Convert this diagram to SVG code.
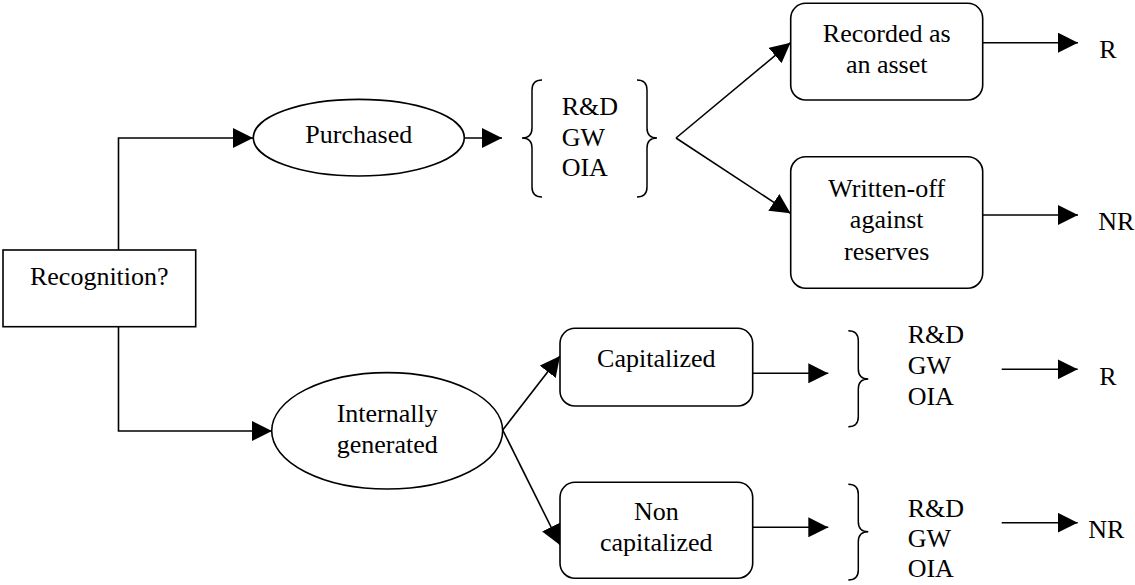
<svg xmlns="http://www.w3.org/2000/svg" width="1135" height="585" viewBox="0 0 1135 585">
<defs>
<style>
.t{font-family:"Liberation Serif","Times New Roman",serif;font-size:26px;fill:#000}
.m{text-anchor:middle}
.s{fill:#fff;stroke:#000;stroke-width:1.6}
.c{fill:none;stroke:#000;stroke-width:1.6}
.b{fill:none;stroke:#000;stroke-width:1.5}
</style>
<marker id="ah" markerUnits="userSpaceOnUse" markerWidth="20" markerHeight="20" refX="20" refY="10" orient="auto">
<path d="M0,0 L20,10 L0,20 z" fill="#000"/>
</marker>
</defs>
<rect width="1135" height="585" fill="#fff"/>
<g id="connectors">
<polyline class="c" points="118.5,250 118.5,138 253,138" marker-end="url(#ah)"/>
<polyline class="c" points="118.5,327 118.5,431 272,431" marker-end="url(#ah)"/>
<line class="c" x1="464" y1="138" x2="502" y2="138" marker-end="url(#ah)"/>
<line class="c" x1="676" y1="138" x2="790.5" y2="42.7" marker-end="url(#ah)"/>
<line class="c" x1="676" y1="138" x2="790.5" y2="213.3" marker-end="url(#ah)"/>
<line class="c" x1="982.7" y1="42.7" x2="1078" y2="42.7" marker-end="url(#ah)"/>
<line class="c" x1="982.7" y1="215" x2="1078" y2="215" marker-end="url(#ah)"/>
<line class="c" x1="502.7" y1="430" x2="560" y2="356" marker-end="url(#ah)"/>
<line class="c" x1="502.7" y1="430" x2="560" y2="545" marker-end="url(#ah)"/>
<line class="c" x1="752.7" y1="373.3" x2="828.3" y2="373.3" marker-end="url(#ah)"/>
<line class="c" x1="752.7" y1="527.3" x2="828.3" y2="527.3" marker-end="url(#ah)"/>
<line class="c" x1="1001.7" y1="369.3" x2="1077.7" y2="369.3" marker-end="url(#ah)"/>
<line class="c" x1="1001.7" y1="522.7" x2="1077.7" y2="522.7" marker-end="url(#ah)"/>
</g>
<g id="recognition">
<rect class="s" x="3" y="250" width="192.7" height="76.7"/>
<text class="t m" x="99.3" y="285">Recognition?</text>
</g>
<g id="purchased">
<ellipse class="s" cx="358.8" cy="137.7" rx="105.5" ry="38.3"/>
<text class="t m" x="358.8" y="143">Purchased</text>
</g>
<g id="purchased-items">
<path class="b" d="M542,80 Q532,80 532,90 L532,128 Q532,138 522,138 Q532,138 532,148 L532,187 Q532,197 542,197"/>
<path class="b" d="M637,80 Q647,80 647,90 L647,128 Q647,138 657,138 Q647,138 647,148 L647,187 Q647,197 637,197"/>
<text class="t" x="561.7" y="115">R&amp;D</text>
<text class="t" x="561.7" y="145.5">GW</text>
<text class="t" x="561.7" y="176">OIA</text>
</g>
<g id="recorded">
<rect class="s" x="790.7" y="3.3" width="192" height="96.7" rx="15" ry="15"/>
<text class="t m" x="886.7" y="41.7">Recorded as</text>
<text class="t m" x="886.7" y="73.3">an asset</text>
</g>
<g id="written-off">
<rect class="s" x="790.7" y="156.7" width="192" height="131.6" rx="15" ry="15"/>
<text class="t m" x="886.7" y="196.7">Written-off</text>
<text class="t m" x="886.7" y="228.3">against</text>
<text class="t m" x="886.7" y="260">reserves</text>
</g>
<g id="r1"><text class="t" x="1099.3" y="58.3">R</text></g>
<g id="nr1"><text class="t" x="1098.3" y="230">NR</text></g>
<g id="internally">
<ellipse class="s" cx="387.2" cy="430.8" rx="115.5" ry="58.2"/>
<text class="t m" x="387.2" y="421.7">Internally</text>
<text class="t m" x="387.2" y="452.7">generated</text>
</g>
<g id="capitalized">
<rect class="s" x="560" y="328.3" width="192.7" height="77.7" rx="15" ry="15"/>
<text class="t m" x="656.3" y="366.7">Capitalized</text>
</g>
<g id="non-capitalized">
<rect class="s" x="560" y="482.3" width="192.7" height="96" rx="15" ry="15"/>
<text class="t m" x="656.3" y="520">Non</text>
<text class="t m" x="656.3" y="550.7">capitalized</text>
</g>
<g id="capitalized-items">
<path class="b" d="M848.3,330.7 Q858.3,330.7 858.3,340.7 L858.3,369 Q858.3,379 868.3,379 Q858.3,379 858.3,389 L858.3,416.7 Q858.3,426.7 848.3,426.7"/>
<text class="t" x="907.7" y="343.3">R&amp;D</text>
<text class="t" x="907.7" y="374">GW</text>
<text class="t" x="907.7" y="405">OIA</text>
</g>
<g id="non-capitalized-items">
<path class="b" d="M848.3,484.3 Q858.3,484.3 858.3,494.3 L858.3,521.7 Q858.3,531.7 868.3,531.7 Q858.3,531.7 858.3,541.7 L858.3,570 Q858.3,580 848.3,580"/>
<text class="t" x="907.7" y="516.7">R&amp;D</text>
<text class="t" x="907.7" y="546.7">GW</text>
<text class="t" x="907.7" y="577.3">OIA</text>
</g>
<g id="r2"><text class="t" x="1099.3" y="385">R</text></g>
<g id="nr2"><text class="t" x="1088.3" y="538.3">NR</text></g>
</svg>
